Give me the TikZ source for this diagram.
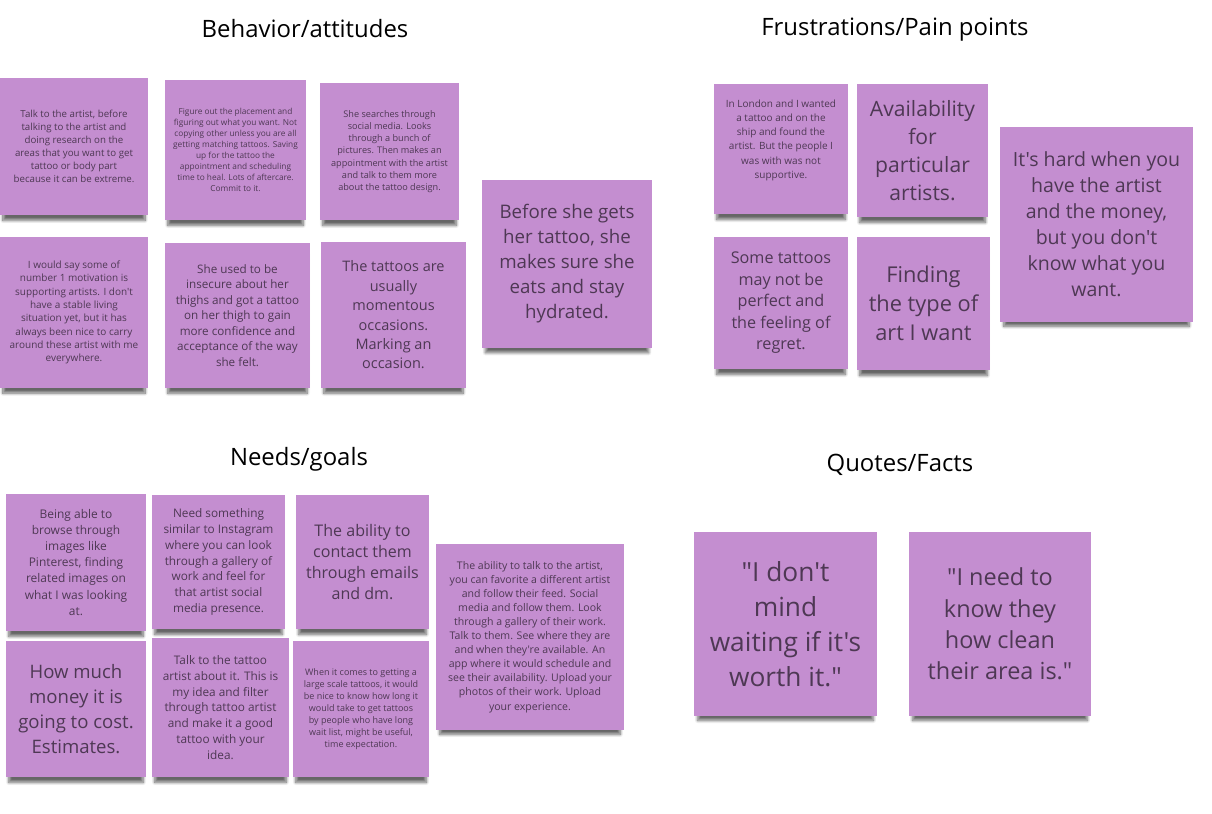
\documentclass[tikz,border=0pt]{standalone}
\usepackage{fontspec}
\setmainfont{Open Sans}[Ligatures=TeXOff]
\usetikzlibrary{shadows.blur}

\definecolor{notepurple}{RGB}{196,142,208}
\definecolor{noteink}{RGB}{78,56,84}

% font size and baseline for the notes
\newcommand{\nfs}[2]{\fontsize{#1}{#2}\selectfont}

\tikzset{
  heading/.style={font=\nfs{17}{20}, text=black},
  sticky/.style={fill=notepurple, inner sep=0pt, align=center, text=noteink,
    blur shadow={shadow xshift=0pt, shadow yshift=-6pt, shadow scale=0.96,
      shadow opacity=60, shadow blur steps=10}}
}

\begin{document}
\begin{tikzpicture}[x=0.025cm, y=-0.025cm]

% --- Canvas (pixel grid of the board) ---
\useasboundingbox (0,0) rectangle (1212,814);

% --- Headings ---
\node[heading] (hBeh)   at (305,29)  {Behavior/attitudes};
\node[heading] (hFrus)  at (895,30)  {Frustrations/Pain points};
\node[heading] (hNeeds) at (299,459) {Needs/goals};
\node[heading] (hQuote) at (900,465) {Quotes/Facts};

% --- Behavior/attitudes ---
\node[sticky, minimum width=3.7cm, minimum height=3.425cm, font=\nfs{6.9}{9.2}]
  (beh1) at (74,146.5) {Talk to the artist, before\\talking to the artist and\\doing research on the\\areas that you want to get\\tattoo or body part\\because it can be extreme.};
\node[sticky, minimum width=3.525cm, minimum height=3.5cm, font=\nfs{5.9}{7.8}]
  (beh2) at (235.5,150) {Figure out the placement and\\figuring out what you want. Not\\copying other unless you are all\\getting matching tattoos. Saving\\up for the tattoo the\\appointment and scheduling\\time to heal. Lots of aftercare.\\Commit to it.};
\node[sticky, minimum width=3.475cm, minimum height=3.425cm, font=\nfs{6.5}{8.7}]
  (beh3) at (389.5,151.5) {She searches through\\social media. Looks\\through a bunch of\\pictures. Then makes an\\appointment with the artist\\and talk to them more\\about the tattoo design.};
\node[sticky, minimum width=3.7cm, minimum height=3.775cm, font=\nfs{7.1}{9.5}]
  (beh4) at (74,312.5) {I would say some of\\number 1 motivation is\\supporting artists. I don't\\have a stable living\\situation yet, but it has\\always been nice to carry\\around these artist with me\\everywhere.};
\node[sticky, minimum width=3.625cm, minimum height=3.625cm, font=\nfs{8.3}{11}]
  (beh5) at (237.5,315.5) {She used to be\\insecure about her\\thighs and got a tattoo\\on her thigh to gain\\more confidence and\\acceptance of the way\\she felt.};
\node[sticky, minimum width=3.625cm, minimum height=3.65cm, font=\nfs{10.3}{13.8}]
  (beh6) at (393.5,315) {The tattoos are\\usually\\momentous\\occasions.\\Marking an\\occasion.};
\node[sticky, minimum width=4.25cm, minimum height=4.2cm, font=\nfs{13.3}{17.8}]
  (beh7) at (567,264) {Before she gets\\her tattoo, she\\makes sure she\\eats and stay\\hydrated.};

% --- Frustrations/Pain points ---
\node[sticky, minimum width=3.35cm, minimum height=3.25cm, font=\nfs{7.1}{10.1}]
  (frus1) at (781,149) {In London and I wanted\\a tattoo and on the\\ship and found the\\artist. But the people I\\was with was not\\supportive.\\[4pt]\mbox{}};
\node[sticky, minimum width=3.275cm, minimum height=3.325cm, font=\nfs{15}{19.9}]
  (frus2) at (922.5,150.5) {Availability\\for\\particular\\artists.};
\node[sticky, minimum width=4.825cm, minimum height=4.875cm, font=\nfs{13.9}{18.5}]
  (frus3) at (1096.5,224.5) {It's hard when you\\have the artist\\and the money,\\but you don't\\know what you\\want.};
\node[sticky, minimum width=3.35cm, minimum height=3.3cm, font=\nfs{11.5}{15.3}]
  (frus4) at (781,303) {Some tattoos\\may not be\\perfect and\\the feeling of\\regret.};
\node[sticky, minimum width=3.325cm, minimum height=3.325cm, font=\nfs{15.5}{20.6}]
  (frus5) at (923.5,303.5) {Finding\\the type of\\art I want};

% --- Needs/goals ---
\node[sticky, minimum width=3.5cm, minimum height=3.425cm, font=\nfs{8.5}{11.4}]
  (need1) at (76,562.5) {Being able to\\browse through\\images like\\Pinterest, finding\\related images on\\what I was looking\\at.};
\node[sticky, minimum width=3.325cm, minimum height=3.35cm, font=\nfs{8.4}{11.2}]
  (need2) at (218.5,562) {Need something\\similar to Instagram\\where you can look\\through a gallery of\\work and feel for\\that artist social\\media presence.};
\node[sticky, minimum width=3.325cm, minimum height=3.35cm, font=\nfs{11.4}{15.1}]
  (need3) at (362.5,562) {The ability to\\contact them\\through emails\\and dm.};
\node[sticky, minimum width=4.7cm, minimum height=4.65cm, font=\nfs{7.5}{10}]
  (need4) at (530,637) {The ability to talk to the artist,\\you can favorite a different artist\\and follow their feed. Social\\media and follow them. Look\\through a gallery of their work.\\Talk to them. See where they are\\and when they're available. An\\app where it would schedule and\\see their availability. Upload your\\photos of their work. Upload\\your experience.};
\node[sticky, minimum width=3.5cm, minimum height=3.4cm, font=\nfs{13.2}{17.6}]
  (need5) at (76,709) {How much\\money it is\\going to cost.\\Estimates.};
\node[sticky, minimum width=3.425cm, minimum height=3.475cm, font=\nfs{8.4}{11.2}]
  (need6) at (220.5,707.5) {Talk to the tattoo\\artist about it. This is\\my idea and filter\\through tattoo artist\\and make it a good\\tattoo with your\\idea.};
\node[sticky, minimum width=3.4cm, minimum height=3.4cm, font=\nfs{6.4}{8.5}]
  (need7) at (361,709) {When it comes to getting a\\large scale tattoos, it would\\be nice to know how long it\\would take to get tattoos\\by people who have long\\wait list, might be useful,\\time expectation.};

% --- Quotes/Facts ---
\node[sticky, minimum width=4.575cm, minimum height=4.6cm, font=\nfs{18.7}{24.9}]
  (quote1) at (785.5,624) {"I don't\\mind\\waiting if it's\\worth it."};
\node[sticky, minimum width=4.55cm, minimum height=4.6cm, font=\nfs{16.7}{22.3}]
  (quote2) at (1000,624) {"I need to\\know they\\how clean\\their area is."};

\end{tikzpicture}
\end{document}
